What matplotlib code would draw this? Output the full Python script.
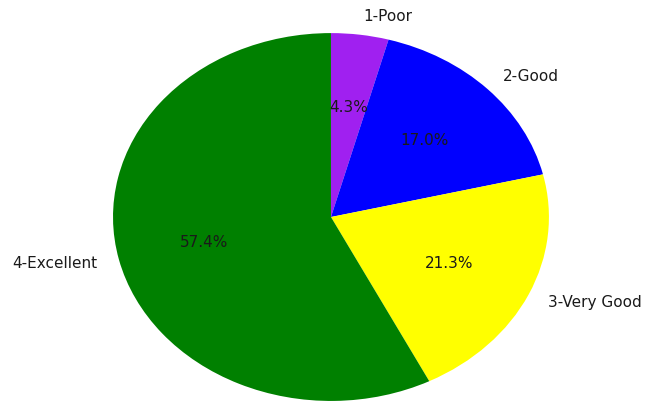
import matplotlib
matplotlib.use("Agg")
import matplotlib.pyplot as plt

# --------------------
# Data
# --------------------
labels = ["1-Poor", "2-Good", "3-Very Good", "4-Excellent"]
counts = [2, 8, 10, 27]
colors = ["#a020f0", "#0000ff", "#ffff00", "#008000"]

fig = plt.figure(figsize=(6.51, 4.03), dpi=100)
# stretched (non-circular) pie, as in the reference
ax = fig.add_axes([0.0899, -0.109, 0.837, 1.141])
ax.pie(counts, labels=labels, colors=colors, autopct="%1.1f%%",
       startangle=90, counterclock=False,
       textprops={"fontsize": 11, "color": "#1a1a1a"})
ax.set_aspect("auto")
ax.set_xlim(-1.25, 1.25)
ax.set_ylim(-1.25, 1.25)

fig.savefig("out.png", dpi=100)
